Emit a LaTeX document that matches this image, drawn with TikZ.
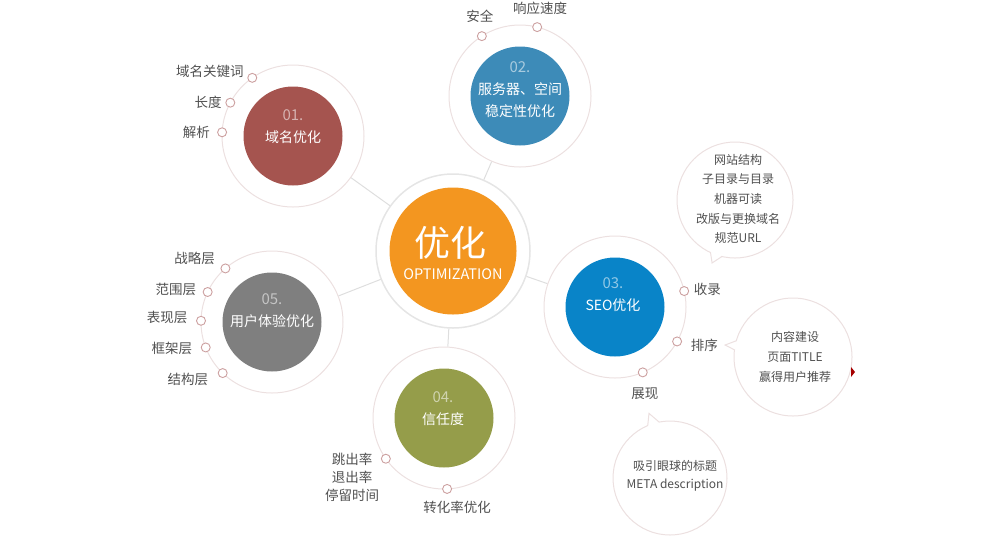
\documentclass[tikz,border=0pt]{standalone}
\usepackage{fontspec}
\setmainfont{Noto Sans CJK SC}
\usepackage{xcolor}
\usepackage{tikz}
\usetikzlibrary{positioning,calc}
\definecolor{optColor}{RGB}{243,150,32}
\definecolor{domainColor}{RGB}{165,84,79}
\definecolor{serverColor}{RGB}{61,139,184}
\definecolor{seoColor}{RGB}{9,132,200}
\definecolor{trustColor}{RGB}{149,157,74}
\definecolor{uxColor}{RGB}{127,127,127}
\definecolor{ringColor}{RGB}{236,224,224}
\definecolor{dotColor}{RGB}{204,160,160}
\definecolor{lineColor}{RGB}{222,222,222}
\definecolor{labelColor}{RGB}{80,80,80}
\tikzset{
    ringnode/.style={
        circle,
        draw=ringColor,
        line width=1pt,
        inner sep=0pt,
        minimum size=142pt
    },
    bigring/.style={
        ringnode,
        draw=black!10,
        line width=1.5pt,
        minimum size=154pt
    },
    discnode/.style={circle, inner sep=0pt, minimum size=99pt},
    linkline/.style={draw=lineColor, line width=1pt},
    bulletdot/.style={
        circle,
        draw=dotColor,
        fill=white,
        line width=0.9pt,
        inner sep=0pt,
        minimum size=9pt
    },
    lbl/.style={text=labelColor, inner sep=0pt, font=\fontsize{13.5}{16}\selectfont},
    intxt/.style={text=white, inner sep=0pt, align=center, font=\fontsize{14}{22}\selectfont},
    bubblenode/.style={circle, draw=ringColor, line width=1pt, fill=white, inner sep=0pt},
    bubtxt/.style={text=labelColor, inner sep=0pt, align=center, font=\fontsize{12}{19.6}\selectfont}
}
\newcommand{\discnum}[2]{{\fontsize{15}{22}\selectfont\color{#1!45!white}#2}}

\begin{document}
\begin{tikzpicture}[x=1pt, y=-1pt]
\useasboundingbox (0,0) rectangle (1000,539);
% rings and discs
\node[bigring] (r0) at (453,251) {};
\node[ringnode] (r1) at (293,136) {};
\node[ringnode] (r2) at (520,96) {};
\node[ringnode] (r3) at (615,307) {};
\node[ringnode] (r4) at (444,418) {};
\node[ringnode] (r5) at (272,322) {};
\node[discnode, fill=optColor, minimum size=127pt] (n0) at (r0) {};
\node[discnode, fill=domainColor] (n1) at (r1) {};
\node[discnode, fill=serverColor] (n2) at (r2) {};
\node[discnode, fill=seoColor] (n3) at (r3) {};
\node[discnode, fill=trustColor] (n4) at (r4) {};
\node[discnode, fill=uxColor] (n5) at (r5) {};
\foreach \i in {1,...,5}
    \draw[linkline] (r0) -- (r\i);

% texts in the discs
\node[text=white, inner sep=0pt, font=\fontsize{36}{40}\selectfont] (t0) at (450,243) {优化};
\node[text=white, inner sep=0pt, font=\fontsize{14.5}{16}\selectfont] (t0b) at (453,274) {OPTIMIZATION};
\node[intxt] (t1) at (293,127) {\discnum{domainColor}{01.}\\域名优化};
\node[intxt] (t2) at (520,90) {\discnum{serverColor}{02.}\\服务器、空间\\稳定性优化};
\node[intxt] (t3) at (613,295) {\discnum{seoColor}{03.}\\SEO优化};
\node[intxt] (t4) at (443,409) {\discnum{trustColor}{04.}\\信任度};
\node[intxt] (t5) at (272,310.5) {\discnum{uxColor}{05.}\\用户体验优化};

% bullets and labels
\node[bulletdot] (d11) at ([shift={(235:71)}]r1.center) {};
\node[lbl, left=3.5pt of d11, yshift=6pt] (l11) {域名关键词};
\node[bulletdot] (d12) at ([shift={(208:71)}]r1.center) {};
\node[lbl, left=3.5pt of d12] (l12) {长度};
\node[bulletdot] (d13) at ([shift={(183:71)}]r1.center) {};
\node[lbl, left=7pt of d13] (l13) {解析};

\node[bulletdot] (d21) at ([shift={(237.5:71)}]r2.center) {};
\node[lbl, above=8.5pt of d21, xshift=-2pt] (l21) {安全};
\node[bulletdot] (d22) at ([shift={(284:71)}]r2.center) {};
\node[lbl, above=7.5pt of d22, xshift=3pt] (l22) {响应速度};

\node[bulletdot] (d31) at ([shift={(347:71)}]r3.center) {};
\node[lbl, right=4.5pt of d31, yshift=2pt] (l31) {收录};
\node[bulletdot] (d32) at ([shift={(29:71)}]r3.center) {};
\node[lbl, right=8.5pt of d32, yshift=-4pt] (l32) {排序};
\node[bulletdot] (d33) at ([shift={(67:71)}]r3.center) {};
\node[lbl, below=10.5pt of d33, xshift=2pt] (l33) {展现};

\node[bulletdot] (d41) at ([shift={(145:71)}]r4.center) {};
\node[lbl, align=center, font=\fontsize{13.5}{18}\selectfont, left=1.5pt of d41, yshift=-19pt] (l41) {跳出率\\退出率\\停留时间};
\node[bulletdot] (d42) at ([shift={(87.5:71)}]r4.center) {};
\node[lbl, below=6.5pt of d42, xshift=10pt] (l42) {转化率优化};

\node[bulletdot] (d51) at ([shift={(229:71)}]r5.center) {};
\node[lbl, left=5.5pt of d51, yshift=10pt] (l51) {战略层};
\node[bulletdot] (d52) at ([shift={(205:71)}]r5.center) {};
\node[lbl, left=6.5pt of d52, yshift=3pt] (l52) {范围层};
\node[bulletdot] (d53) at ([shift={(181:71)}]r5.center) {};
\node[lbl, left=8.5pt of d53, yshift=3pt] (l53) {表现层};
\node[bulletdot] (d54) at ([shift={(159:71)}]r5.center) {};
\node[lbl, left=8.5pt of d54, yshift=-1pt] (l54) {框架层};
\node[bulletdot] (d55) at ([shift={(134:71)}]r5.center) {};
\node[lbl, left=9.5pt of d55, yshift=-6pt] (l55) {结构层};

% speech bubbles
\node[bubblenode, minimum size=116pt] (b1) at (735,200) {};
\node[bubblenode, minimum size=118pt] (b2) at (793,357) {};
\node[bubblenode, minimum size=114pt] (b3) at (670,478) {};
\foreach \b/\r/\ra/\rt/\rb/\d in {b1/58/103/110/115/67, b2/59/187/190/196/69, b3/57/247/252/259/68} {
    \fill[white] ([shift={(\ra:\r-1)}]\b.center) -- ([shift={(\rt:\d)}]\b.center) -- ([shift={(\rb:\r-1)}]\b.center) -- cycle;
    \draw[draw=ringColor, line width=1pt] ([shift={(\ra:\r)}]\b.center) -- ([shift={(\rt:\d)}]\b.center) -- ([shift={(\rb:\r)}]\b.center);
}
\node[bubtxt] (bt1) at ([xshift=3pt, yshift=1pt]b1) {网站结构\\子目录与目录\\机器可读\\改版与更换域名\\规范URL};
\node[bubtxt] (bt2) at ([xshift=2pt]b2) {内容建设\\页面TITLE\\赢得用户推荐};
\node[bubtxt, font=\fontsize{12}{18}\selectfont] (bt3) at ([xshift=5pt, yshift=2pt]b3) {吸引眼球的标题\\META description};
\fill[red!65!black] (851,367) -- (855,372) -- (851,377) -- cycle;
\end{tikzpicture}
\end{document}
